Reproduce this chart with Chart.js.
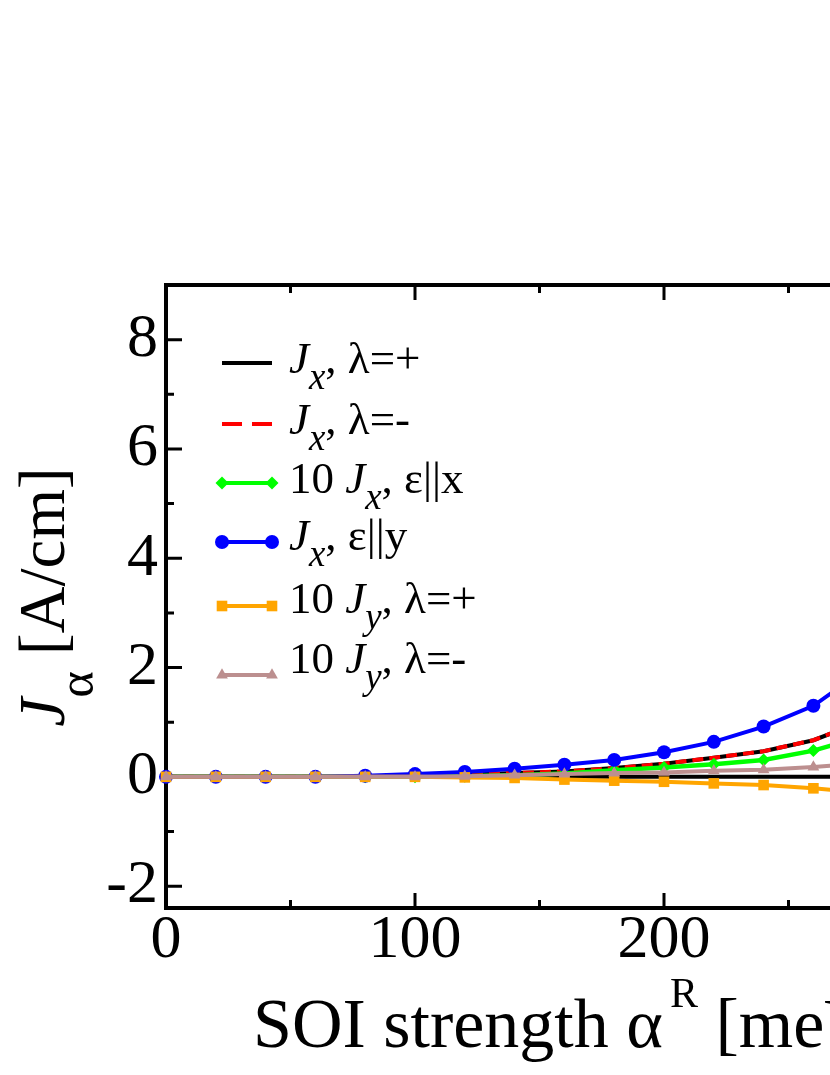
<!DOCTYPE html>
<html>
<head>
<meta charset="utf-8">
<script src="https://cdn.jsdelivr.net/npm/chart.js@4.4.0/dist/chart.umd.min.js"></script>
<style>
  html, body { margin: 0; padding: 0; background: #fff; overflow: hidden; }
  #wrap { position: absolute; left: 0; top: 0; width: 960px; height: 1075px; }
</style>
</head>
<body>
<div id="wrap"><canvas id="myChart"></canvas></div>
<script>
// SOI strength alpha^R [meV]
const alphaR    = [0, 20, 40, 60, 80, 100, 120, 140, 160, 180, 200, 220, 240, 260, 280];
// currents [A/cm]
const jxPlus    = [0, 0, 0, 0, 0, 0.02, 0.04, 0.07, 0.10, 0.16, 0.24, 0.35, 0.47, 0.67, 1.02];
const jxMinus   = [0, 0, 0, 0, 0, 0.02, 0.04, 0.07, 0.10, 0.16, 0.24, 0.35, 0.47, 0.67, 1.02];
const jxEpsX10  = [0, 0, 0, 0, 0, 0, 0.01, 0.03, 0.06, 0.12, 0.17, 0.23, 0.31, 0.48, 0.74];
const jxEpsY    = [0, 0, 0, 0, 0.02, 0.05, 0.09, 0.15, 0.22, 0.31, 0.45, 0.64, 0.92, 1.30, 1.95];
const jyPlus10  = [0, 0, 0, 0, 0, 0, -0.01, -0.02, -0.05, -0.07, -0.09, -0.12, -0.15, -0.21, -0.29];
const jyMinus10 = [0, 0, 0, 0, 0, 0, 0.01, 0.03, 0.05, 0.07, 0.08, 0.11, 0.13, 0.18, 0.25];

const xTickValues = [0, 100, 200, 300];
const yTickValues = [-2, 0, 2, 4, 6, 8];

// legend texts: it = italic, sub = subscript
const legendLabels = [
    [{t: 'J', it: 1}, {t: 'x', it: 1, sub: 1}, {t: ', λ=+'}],
    [{t: 'J', it: 1}, {t: 'x', it: 1, sub: 1}, {t: ', λ=-'}],
    [{t: '10 '}, {t: 'J', it: 1}, {t: 'x', it: 1, sub: 1}, {t: ', ε||x'}],
    [{t: 'J', it: 1}, {t: 'x', it: 1, sub: 1}, {t: ', ε||y'}],
    [{t: '10 '}, {t: 'J', it: 1}, {t: 'y', it: 1, sub: 1}, {t: ', λ=+'}],
    [{t: '10 '}, {t: 'J', it: 1}, {t: 'y', it: 1, sub: 1}, {t: ', λ=-'}]
];
const xTitle = [{t: 'SOI strength α'}, {t: 'R', sup: 1}, {t: ' [meV]'}];
const yTitle = [{t: 'J', it: 1}, {t: 'α', sub: 1}, {t: ' [A/cm]'}];

const FAMILY = '"Liberation Serif", "Times New Roman", serif';

function fontFor(size, italic) {
    return (italic ? 'italic ' : '') + size + 'px ' + FAMILY;
}

function partSize(p, size, subScale) {
    if (p.sub) return size * subScale;
    if (p.sup) return size * 0.6;
    return size;
}

function partsWidth(ctx, parts, size, subScale) {
    var w = 0;
    parts.forEach((p) => {
        ctx.font = fontFor(partSize(p, size, subScale), p.it);
        w += ctx.measureText(p.t).width + (p.sup ? size * 0.1 : 0);
    });
    return w;
}

function drawParts(ctx, parts, x, y, size, subScale, subDy) {
    ctx.fillStyle = '#000';
    ctx.textBaseline = 'alphabetic';
    ctx.textAlign = 'left';
    parts.forEach((p) => {
        var s = partSize(p, size, subScale);
        ctx.font = fontFor(s, p.it);
        var dy = 0;
        if (p.sub) dy = size * subDy;
        if (p.sup) { dy = -size * 0.57; x += size * 0.1; }
        ctx.fillText(p.t, x, y + dy);
        x += ctx.measureText(p.t).width;
    });
}

function drawMarker(ctx, style, x, y, r, color) {
    ctx.fillStyle = color;
    ctx.beginPath();
    if (style === 'circle') {
        ctx.arc(x, y, r, 0, Math.PI * 2);
    } else if (style === 'rect') {
        var s = r * Math.SQRT1_2;
        ctx.rect(x - s, y - s, 2 * s, 2 * s);
    } else if (style === 'rectRot') {
        ctx.moveTo(x - r, y); ctx.lineTo(x, y - r); ctx.lineTo(x + r, y); ctx.lineTo(x, y + r);
    } else if (style === 'triangle') {
        var a = -Math.PI / 2;
        for (var i = 0; i < 3; i++) {
            var px = x + Math.cos(a) * r, py = y + Math.sin(a) * r;
            if (i === 0) ctx.moveTo(px, py); else ctx.lineTo(px, py);
            a += Math.PI * 2 / 3;
        }
    }
    ctx.closePath();
    ctx.fill();
}

function minorsOf(major) {
    var out = [];
    for (var i = 0; i < major.length - 1; i++) out.push((major[i] + major[i + 1]) / 2);
    return out;
}

function toPoints(values) {
    return alphaR.map((a, i) => ({x: a, y: values[i]}));
}

const seriesStyle = [
    {color: '#000000', point: false, dash: [], w: 4},
    {color: '#ff0000', point: false, dash: [11, 6], w: 4},
    {color: '#00ff00', point: 'rectRot', r: 6.5, w: 4.5},
    {color: '#0000ff', point: 'circle', r: 7, w: 4},
    {color: '#ffa500', point: 'rect', r: 7.5, w: 4},
    {color: '#bc8f8f', point: 'triangle', r: 6.8, w: 4}
];

const framePlugin = {
    id: 'frame',
    beforeDatasetsDraw(chart) {
        const ctx = chart.ctx, a = chart.chartArea;
        const xs = chart.scales.x, ys = chart.scales.y;
        ctx.save();
        ctx.strokeStyle = '#000';
        // zero line
        ctx.lineWidth = 4;
        var y0 = ys.getPixelForValue(0);
        ctx.beginPath(); ctx.moveTo(a.left, y0); ctx.lineTo(a.right, y0); ctx.stroke();
        // frame
        ctx.lineWidth = 4;
        ctx.strokeRect(a.left, a.top, a.right - a.left, a.bottom - a.top);
        // inward ticks
        ctx.lineWidth = 3;
        ctx.beginPath();
        xTickValues.concat(minorsOf(xTickValues)).forEach((v, i) => {
            var len = i < xTickValues.length ? 15 : 8;
            var px = xs.getPixelForValue(v);
            ctx.moveTo(px, a.bottom); ctx.lineTo(px, a.bottom - len);
            ctx.moveTo(px, a.top); ctx.lineTo(px, a.top + len);
        });
        yTickValues.concat(minorsOf(yTickValues)).forEach((v, i) => {
            var len = i < yTickValues.length ? 16 : 8;
            var py = ys.getPixelForValue(v);
            ctx.moveTo(a.left, py); ctx.lineTo(a.left + len, py);
            ctx.moveTo(a.right, py); ctx.lineTo(a.right - len, py);
        });
        ctx.stroke();
        ctx.restore();
    },
    afterDatasetsDraw(chart) {
        const ctx = chart.ctx;
        ctx.save();
        // legend
        var lineYs = [363, 424, 483, 542, 606, 675];
        var baseYs = [373, 434, 493, 550, 613, 673];
        legendLabels.forEach((parts, i) => {
            var st = seriesStyle[i];
            var y = lineYs[i];
            ctx.strokeStyle = st.color;
            ctx.lineWidth = 4;
            ctx.setLineDash(i === 1 ? [20, 10] : []);
            ctx.beginPath(); ctx.moveTo(222, y); ctx.lineTo(272, y); ctx.stroke();
            ctx.setLineDash([]);
            if (st.point) {
                drawMarker(ctx, st.point, 222, y, st.r, st.color);
                drawMarker(ctx, st.point, 272, y, st.r, st.color);
            }
            drawParts(ctx, parts, 289, baseYs[i], 45, 0.82, 0.36);
        });
        // axis titles
        drawParts(ctx, xTitle, 253, 1047, 70, 0.8, 0.36);
        ctx.translate(64, 597);
        ctx.rotate(-Math.PI / 2);
        var w = partsWidth(ctx, yTitle, 65, 0.78);
        drawParts(ctx, yTitle, -w / 2, 0, 65, 0.78, 0.45);
        ctx.restore();
    }
};

const datasets = [jxPlus, jxMinus, jxEpsX10, jxEpsY, jyPlus10, jyMinus10].map((vals, i) => {
    var st = seriesStyle[i];
    return {
        data: toPoints(vals),
        borderColor: st.color,
        backgroundColor: st.color,
        borderWidth: st.w,
        borderDash: st.dash || [],
        pointStyle: st.point || 'circle',
        pointRadius: st.point ? st.r : 0,
        pointBorderWidth: 0,
        pointBackgroundColor: st.color,
        tension: 0,
        clip: false,
        order: 6 - i
    };
});

const ctx = document.getElementById('myChart');

new Chart(ctx, {
    type: 'line',
    data: { datasets: datasets },
    options: {
        responsive: true,
        maintainAspectRatio: false,
        animation: false,
        events: [],
        layout: { padding: { left: 0, top: 285, right: 47, bottom: 0 } },
        plugins: { legend: { display: false }, tooltip: { enabled: false } },
        scales: {
            x: {
                type: 'linear',
                min: 0,
                max: 300,
                grid: { display: false, drawTicks: false },
                border: { display: false },
                afterBuildTicks: (s) => { s.ticks = xTickValues.map((v) => ({value: v})); },
                afterFit: (s) => { s.height = 167; },
                ticks: {
                    padding: -4,
                    color: '#000',
                    maxRotation: 0,
                    autoSkip: false,
                    font: { family: FAMILY, size: 62 }
                }
            },
            y: {
                type: 'linear',
                min: -2.4,
                max: 9,
                grid: { display: false, drawTicks: false },
                border: { display: false },
                afterBuildTicks: (s) => { s.ticks = yTickValues.map((v) => ({value: v})); },
                afterFit: (s) => { s.width = 166; },
                ticks: {
                    padding: 8,
                    color: '#000',
                    font: { family: FAMILY, size: 62 }
                }
            }
        }
    },
    plugins: [framePlugin]
});
</script>
</body>
</html>
